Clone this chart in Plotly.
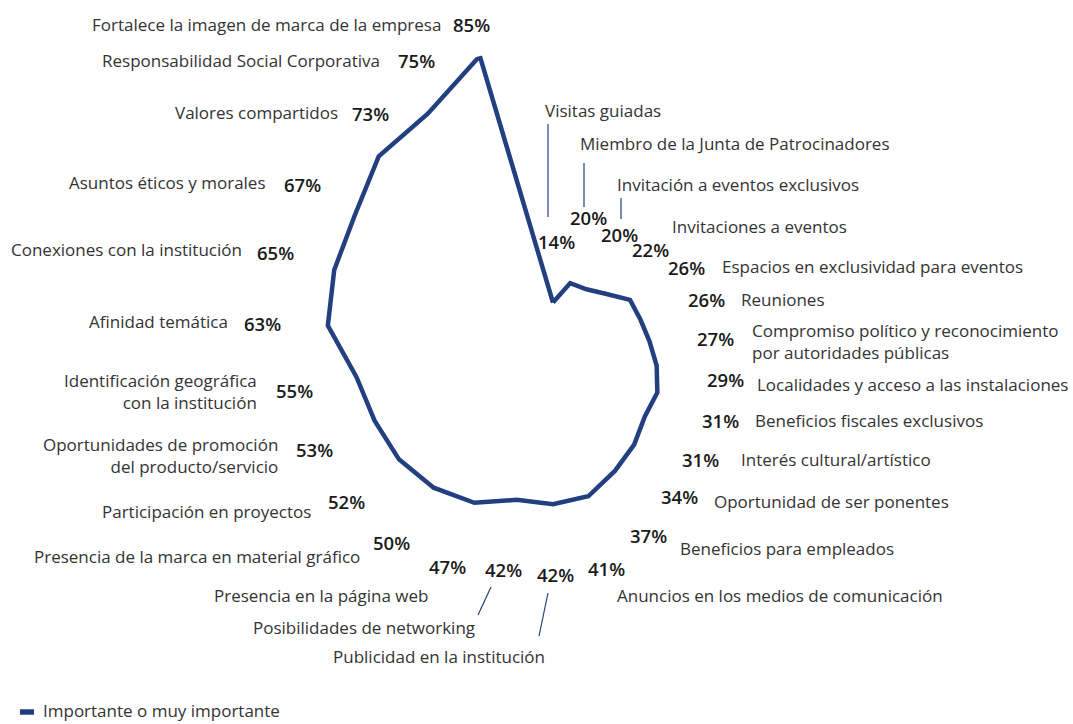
import plotly.graph_objects as go

W, H = 1073, 724

CATEGORIES = [
    "Visitas guiadas",
    "Miembro de la Junta de Patrocinadores",
    "Invitación a eventos exclusivos",
    "Invitaciones a eventos",
    "Espacios en exclusividad para eventos",
    "Reuniones",
    "Compromiso político y reconocimiento<br>por autoridades públicas",
    "Localidades y acceso a las instalaciones",
    "Beneficios fiscales exclusivos",
    "Interés cultural/artístico",
    "Oportunidad de ser ponentes",
    "Beneficios para empleados",
    "Anuncios en los medios de comunicación",
    "Publicidad en la institución",
    "Posibilidades de networking",
    "Presencia en la página web",
    "Presencia de la marca en material gráfico",
    "Participación en proyectos",
    "Oportunidades de promoción<br>del producto/servicio",
    "Identificación geográfica<br>con la institución",
    "Afinidad temática",
    "Conexiones con la institución",
    "Asuntos éticos y morales",
    "Valores compartidos",
    "Responsabilidad Social Corporativa",
    "Fortalece la imagen de marca de la empresa",
]
VALUES = [14, 20, 20, 22, 26, 26, 27, 29, 31, 31, 34, 37, 41, 42, 42, 47, 50, 52, 53, 55,
          63, 65, 67, 73, 75, 85]
SERIES_NAME = "Importante o muy importante"

COLORS = {
    'line': '#22407f',
    'label': '#333333',
    'pct': '#1a1a1a',
    'bg': '#FFFFFF',
}

# label layout in pixels: (label x, label y, label anchor, pct x, pct y)
LABEL_POS = [
    (543, 111, 'left', 556, 241),
    (578, 144, 'left', 588, 217),
    (615, 184, 'left', 619, 235),
    (670, 226, 'left', 650, 250),
    (720, 266, 'left', 686, 267),
    (739, 300, 'left', 706, 300),
    (750, 342, 'left', 715, 338),
    (755, 385, 'left', 725, 379),
    (753, 420, 'left', 720, 420),
    (739, 459, 'left', 700, 459),
    (712, 502, 'left', 679, 496),
    (678, 548, 'left', 648, 535),
    (615, 595, 'left', 606, 568),
    (331, 656, 'left', 555, 574),
    (477, 627, 'right', 503, 569),
    (430, 595, 'right', 447, 566),
    (362, 556, 'right', 392, 542),
    (313, 511, 'right', 346, 502),
    (280, 456, 'right', 314, 449),
    (259, 391, 'right', 294, 390),
    (230, 321, 'right', 262, 323),
    (244, 249, 'right', 275, 252),
    (268, 182, 'right', 302, 184),
    (340, 112, 'right', 370, 114),
    (382, 61, 'right', 416, 61),
    (443, 24, 'right', 471, 24),
]

# leader lines (pixels): x0, y0, x1, y1
LEADERS = [
    (548, 124, 548, 217),
    (584, 163, 584, 207),
    (621, 198, 621, 219),
    (491, 587, 478, 615),
    (548, 593, 539, 636),
]


def px_x(x):
    return x / W


def px_y(y):
    return 1 - y / H


fig = go.Figure()

fig.add_trace(go.Scatterpolar(
    r=VALUES + VALUES[:1],
    theta=CATEGORIES + CATEGORIES[:1],
    mode='lines',
    name=SERIES_NAME,
    line=dict(color=COLORS['line'], width=4.5),
    hovertemplate='%{theta}: %{r}%<extra></extra>',
    showlegend=False,
))

annotations = []
for cat, val, pos in zip(CATEGORIES, VALUES, LABEL_POS):
    lx, ly, anchor, qx, qy = pos
    annotations.append(dict(
        x=px_x(lx), y=px_y(ly), xref='paper', yref='paper',
        text=cat, showarrow=False, xanchor=anchor, yanchor='middle',
        align=anchor,
        font=dict(size=17, color=COLORS['label'], family='Open Sans, sans-serif'),
    ))
    annotations.append(dict(
        x=px_x(qx), y=px_y(qy), xref='paper', yref='paper',
        text=f"{val}%", showarrow=False, xanchor='center', yanchor='middle',
        font=dict(size=18.5, color=COLORS['pct'], family='Open Sans, sans-serif',
                  weight=600),
    ))

# legend drawn by hand so it can sit at the very bottom edge
annotations.append(dict(
    x=px_x(41), y=0, xref='paper', yref='paper',
    text=SERIES_NAME, showarrow=False, xanchor='left', yanchor='bottom',
    font=dict(size=17, color=COLORS['label'], family='Open Sans, sans-serif'),
))

shapes = []
for x0, y0, x1, y1 in LEADERS:
    shapes.append(dict(
        type='line', xref='paper', yref='paper',
        x0=px_x(x0), y0=px_y(y0), x1=px_x(x1), y1=px_y(y1),
        line=dict(color=COLORS['line'], width=1.2),
    ))
shapes.append(dict(
    type='line', xref='paper', yref='paper',
    x0=px_x(20), y0=px_y(712), x1=px_x(34), y1=px_y(712),
    line=dict(color=COLORS['line'], width=5.5),
))

cx, cy, rad = 553, 353, 306
fig.update_layout(
    width=W, height=H,
    margin=dict(l=0, r=0, t=0, b=0),
    paper_bgcolor=COLORS['bg'],
    plot_bgcolor=COLORS['bg'],
    font=dict(family='Open Sans, sans-serif', size=17, color=COLORS['label']),
    polar=dict(
        domain=dict(x=[px_x(cx - rad), px_x(cx + rad)],
                    y=[px_y(cy + rad), px_y(cy - rad)]),
        bgcolor=COLORS['bg'],
        radialaxis=dict(visible=False, range=[0, 85]),
        angularaxis=dict(visible=False, direction='clockwise', rotation=90),
    ),
    showlegend=False,
    annotations=annotations,
    shapes=shapes,
)

fig.write_html("out.html", config={'displayModeBar': False},
               post_script="document.body.style.margin='0';")
